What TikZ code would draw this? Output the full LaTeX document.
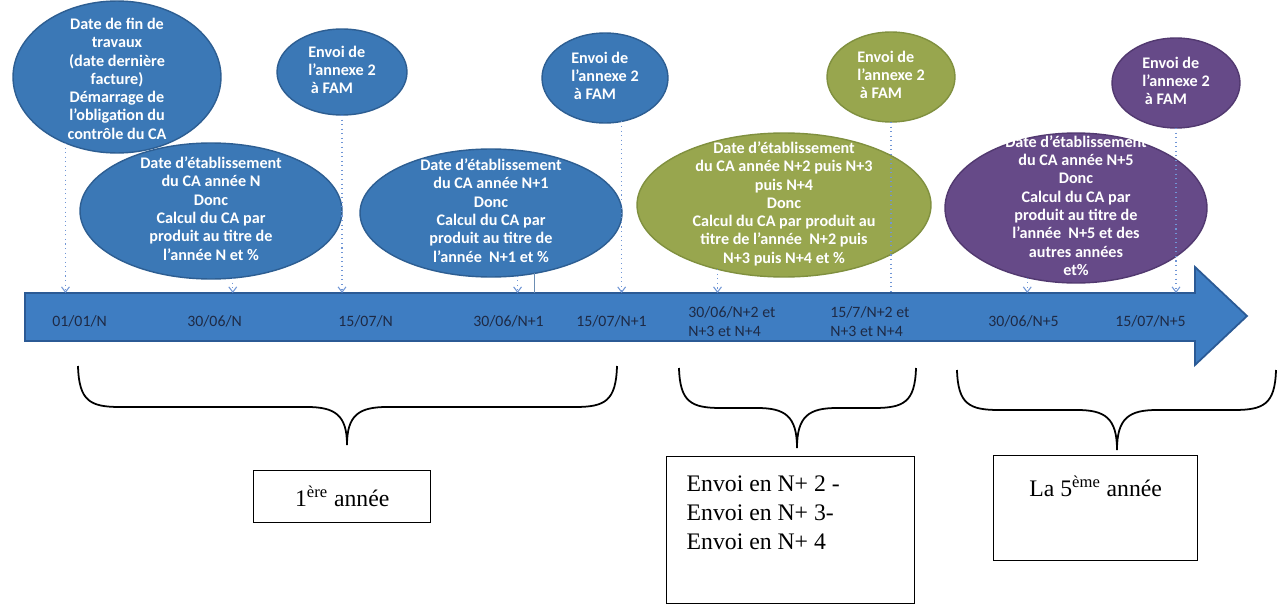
\documentclass[tikz,border=0pt]{standalone}
\usepackage{fontspec}
\setmainfont{Liberation Serif}
\newfontfamily\calib{Carlito}
\usetikzlibrary{shapes.geometric,arrows.meta}
\definecolor{bluefill}{HTML}{3B78B6}
\definecolor{blueedge}{HTML}{2D5E92}
\definecolor{greenfill}{HTML}{98A64E}
\definecolor{greenedge}{HTML}{80903F}
\definecolor{purplefill}{HTML}{664A88}
\definecolor{purpleedge}{HTML}{523970}
\definecolor{bandfill}{HTML}{3E7DC2}
\definecolor{bandedge}{HTML}{2B5A95}
\definecolor{labeltext}{HTML}{1E2A45}
\definecolor{connblue}{HTML}{7096D6}
\newcommand\elltext[2][-2.1pt]{\smash{\raisebox{#1}{\begin{tabular}{@{}c@{}}#2\end{tabular}}}}
\newcommand\elltextl[1]{\smash{\raisebox{-2.1pt}{\begin{tabular}{@{}l@{}}#1\end{tabular}}}}
\newcommand\drawbrace[6]{%
  \draw[bracestyle] (#1,#4) .. controls (#1+1,#5-6) and (#1+12,#5) .. (#1+42,#5)
    -- (#2-40,#5) .. controls (#2-12,#5) and (#2,#5+8) .. (#2,#6)
    .. controls (#2,#5+8) and (#2+12,#5) .. (#2+40,#5)
    -- (#3-42,#5) .. controls (#3-12,#5) and (#3-1,#5-6) .. (#3,#4);}
\tikzset{
  ell/.style={ellipse, inner sep=0pt, outer sep=0pt, line width=0.8pt, text=white,
    font=\calib\bfseries\fontsize{9.2}{10.4}\selectfont},
  blueell/.style={ell, fill=bluefill, draw=blueedge},
  greenell/.style={ell, fill=greenfill, draw=greenedge},
  purpleell/.style={ell, fill=purplefill, draw=purpleedge},
  bandlbl/.style={anchor=west, inner sep=0pt, text=labeltext, align=left,
    font=\calib\fontsize{9}{10.8}\selectfont},
  conn/.style={connblue, dotted, line width=0.6pt, -{Straight Barb[length=3pt,width=4.5pt]}},
  connplain/.style={connblue, dotted, line width=0.6pt},
  solidline/.style={blueedge!70, line width=0.5pt},
  boxstyle/.style={draw=black, line width=0.8pt, fill=white, inner sep=0pt,
    font=\fontsize{13.5}{16.5}\selectfont},
  bracestyle/.style={black, line width=1pt}
}
\begin{document}
\begin{tikzpicture}[x=0.02cm, y=-0.02cm]
\useasboundingbox[fill=white] (0,0) rectangle (1282,605);

% ellipses
\node[blueell, minimum width=4.16cm, minimum height=3.04cm] (e1) at (117,77)
  {\elltext[-4.4pt]{Date de fin de\\travaux\\(date dernière\\facture)\\Démarrage de\\l’obligation du\\contrôle du CA}};
\node[blueell, minimum width=2.6cm, minimum height=1.72cm] (e2) at (342,72)
  {\elltextl{Envoi de\\l’annexe 2\\\hspace{1.5pt}à FAM}};
\node[blueell, minimum width=5.24cm, minimum height=2.72cm] (e3) at (211,211)
  {\elltext{Date d’établissement\\du CA année N\\Donc\\Calcul du CA par\\produit au titre de\\l’année N et \%}};
\node[blueell, minimum width=5.24cm, minimum height=2.56cm] (e4) at (491,213)
  {\elltext{Date d’établissement\\du CA année N+1\\Donc\\Calcul du CA par\\produit au titre de\\l’année \ N+1 et \%}};
\node[blueell, minimum width=2.52cm, minimum height=1.8cm] (e5) at (605,78)
  {\elltextl{Envoi de\\l’annexe 2\\\hspace{1.5pt}à FAM}};
\node[greenell, minimum width=5.88cm, minimum height=2.88cm] (e6) at (784,205)
  {\elltext{Date d’établissement\\du CA année N+2 puis N+3\\puis N+4\\Donc\\Calcul du CA par produit au\\titre de l’année \ N+2 puis\\N+3 puis N+4 et \%}};
\node[greenell, minimum width=2.56cm, minimum height=1.8cm] (e7) at (891,77)
  {\elltextl{Envoi de\\l’annexe 2\\\hspace{1.5pt}à FAM}};
\node[purpleell, minimum width=5.24cm, minimum height=3.0cm] (e8) at (1076,208)
  {\elltext{Date d’établissement\\du CA année N+5\\Donc\\Calcul du CA par\\produit au titre de\\l’année \ N+5 et des\\autres années\\et\%}};
\node[purpleell, minimum width=2.56cm, minimum height=1.8cm] (e9) at (1176,83)
  {\elltextl{Envoi de\\l’annexe 2\\\hspace{1.5pt}à FAM}};

% timeline band
\draw[fill=bandfill, draw=bandedge, line width=1pt]
  (25,293) -- (1195,293) -- (1195,267) -- (1247,316) -- (1195,365) -- (1195,341) -- (25,341) -- cycle;
\coordinate (bandtop) at (0,293);

% connectors
\draw[conn] (e1.232) -- (e1.232 |- bandtop);
\draw[conn] (e3.288) -- (e3.288 |- bandtop);
\draw[conn] (e2.south) -- (e2.south |- bandtop);
\draw[conn] (e4.293) -- (e4.293 |- bandtop);
\draw[solidline] (e4.306) -- (e4.306 |- bandtop);
\draw[conn] (e5.291) -- (e5.291 |- bandtop);
\draw[conn] (e6.224) -- (e6.224 |- bandtop);
\draw[connplain] (e7.south) -- (e7.south |- bandtop);
\draw[conn] (e8.235) -- (e8.235 |- bandtop);
\draw[conn] (e9.south) -- (e9.south |- bandtop);

% band labels
\node[bandlbl] (l1) at (52,321) {01/01/N};
\node[bandlbl] (l2) at (187,321) {30/06/N};
\node[bandlbl] (l3) at (338,321) {15/07/N};
\node[bandlbl] (l4) at (473,321) {30/06/N+1};
\node[bandlbl] (l5) at (576,321) {15/07/N+1};
\node[bandlbl] (l6) at (688,321.5) {30/06/N+2 et\\N+3 et N+4};
\node[bandlbl] (l7) at (830,321.5) {15/7/N+2 et\\N+3 et N+4};
\node[bandlbl] (l8) at (988,321) {30/06/N+5};
\node[bandlbl] (l9) at (1115,321) {15/07/N+5};

% braces
\drawbrace{78}{347}{617}{366}{407}{445}
\drawbrace{679}{797}{916}{368}{408}{448}
\drawbrace{957}{1117}{1276}{370}{410}{450}

% boxes
\node[boxstyle, anchor=north west, minimum width=3.54cm, minimum height=1.04cm] (b1) at (253,470)
  {1\textsuperscript{ère} année};
\node[boxstyle, anchor=north west, minimum width=4.96cm, minimum height=2.94cm] (b2) at (666,456)
  {\parbox[c][2.94cm][t]{4.16cm}{\raggedright\vspace*{11pt}Envoi en N+ 2 -\\Envoi en N+ 3-\\Envoi en N+ 4}};
\node[boxstyle, anchor=north west, minimum width=4.08cm, minimum height=2.1cm] (b3) at (993,455)
  {\parbox[c][2.1cm][t]{3.6cm}{\centering\vspace*{11.5pt}La 5\textsuperscript{ème} année}};
\end{tikzpicture}
\end{document}
